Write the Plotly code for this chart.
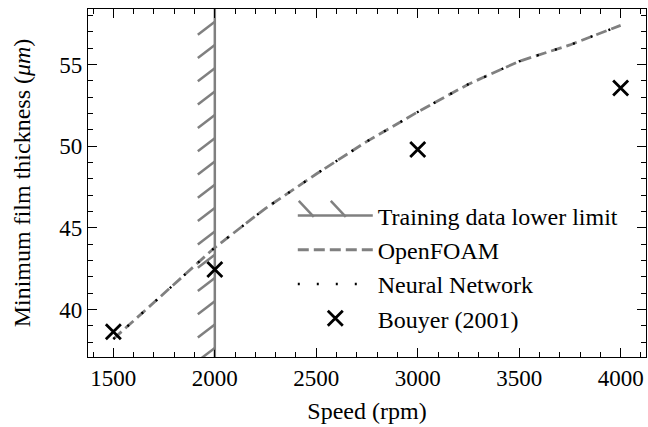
import plotly.graph_objects as go

# ---- data ----
speed = [1500, 1750, 2000, 2250, 2500, 2750, 3000, 3250, 3500, 3750, 4000]
openfoam = [38.2, 41.0, 43.8, 46.2, 48.3, 50.3, 52.1, 53.8, 55.2, 56.2, 57.4]
neural_net = [38.2, 41.0, 43.8, 46.2, 48.3, 50.3, 52.1, 53.8, 55.2, 56.2, 57.4]
bouyer_speed = [1500, 2000, 3000, 4000]
bouyer_h = [38.65, 42.45, 49.8, 53.56]
train_lower_limit = 2000
x_ticks = [1500, 2000, 2500, 3000, 3500, 4000]
y_ticks = [40, 45, 50, 55]

XR = [1375, 4125]
YR = [37.1, 58.4]

W, H = 648, 427
ML, MR, MT, MB = 88, 2, 9, 70
pw, ph = W - ML - MR, H - MT - MB
px_per_x = pw / (XR[1] - XR[0])
px_per_y = ph / (YR[1] - YR[0])

FONT = "Liberation Serif"
FS = 24
GRAY = "#808080"

fig = go.Figure()

fig.add_trace(go.Scatter(
    x=[train_lower_limit, train_lower_limit], y=[YR[0] - 5, YR[1] + 5],
    mode="lines", line=dict(color=GRAY, width=2.5),
    name="Training data lower limit", legendgroup="a"))

fig.add_trace(go.Scatter(
    x=speed, y=openfoam, mode="lines",
    line=dict(color=GRAY, width=2.8, dash="11px,5px"),
    name="OpenFOAM", legendgroup="b"))

fig.add_trace(go.Scatter(
    x=speed, y=neural_net, mode="lines",
    line=dict(color="black", width=2.4, dash="2px,17px"),
    name="Neural Network", legendgroup="c"))

fig.add_trace(go.Scatter(
    x=bouyer_speed, y=bouyer_h, mode="markers",
    marker=dict(symbol="x-thin", size=15, line=dict(color="black", width=2.8)),
    name="Bouyer (2001)", legendgroup="d"))

# ticked stroke on the left side of the lower-limit line
shapes = []
spacing_px, tdx, tdy, off = 23.3, -17, 13, 12.7
k = 0
while off + k * spacing_px < ph + 20:
    y0 = YR[1] - (off + k * spacing_px) / px_per_y
    shapes.append(dict(type="line", xref="x", yref="y",
                       x0=train_lower_limit, y0=y0,
                       x1=train_lower_limit + tdx / px_per_x, y1=y0 - tdy / px_per_y,
                       line=dict(color=GRAY, width=2.5)))
    k += 1

# ticks on the legend sample of the lower-limit line
LEG_X, LEG_Y = 0.367, 0.47
leg_line_px_x = ML + LEG_X * pw + 8
leg_line_px_y = MT + (1 - LEG_Y) * ph + 23.5
for off_x in (13, 45):
    xe = leg_line_px_x + off_x
    shapes.append(dict(type="line", xref="paper", yref="paper",
                       x0=(xe - ML) / pw, y0=1 - (leg_line_px_y - MT) / ph,
                       x1=(xe - 15 - ML) / pw, y1=1 - (leg_line_px_y - 16 - MT) / ph,
                       line=dict(color=GRAY, width=2.5)))

fig.update_layout(
    width=W, height=H,
    margin=dict(l=ML, r=MR, t=MT, b=MB),
    paper_bgcolor="white", plot_bgcolor="white",
    font=dict(family=FONT, size=FS, color="black"),
    shapes=shapes,
    showlegend=True,
    legend=dict(x=LEG_X, y=LEG_Y, xanchor="left", yanchor="top",
                bgcolor="rgba(0,0,0,0)", itemwidth=75,
                tracegroupgap=0, traceorder="grouped",
                font=dict(family=FONT, size=FS)),
)

axis_common = dict(
    showline=True, linecolor="black", linewidth=1.2, mirror="allticks",
    ticks="inside", ticklen=9, tickwidth=1.2, tickcolor="black",
    showgrid=False, zeroline=False, automargin=False,
    tickfont=dict(family=FONT, size=23),
)
fig.update_xaxes(range=XR, tickvals=x_ticks, **axis_common,
                 minor=dict(dtick=100, ticks="inside", ticklen=5, tickwidth=1, tickcolor="black", showgrid=False),
                 title=dict(text="Speed (rpm)", font=dict(family=FONT, size=FS), standoff=12))
fig.update_yaxes(range=YR, tickvals=y_ticks, **axis_common,
                 minor=dict(dtick=1, ticks="inside", ticklen=5, tickwidth=1, tickcolor="black", showgrid=False),
                 title=dict(text="Minimum film thickness (<i>μm</i>)", font=dict(family=FONT, size=FS), standoff=21))

fig.write_html("out.html", config={"displayModeBar": False},
               post_script="document.body.style.margin='0';")
